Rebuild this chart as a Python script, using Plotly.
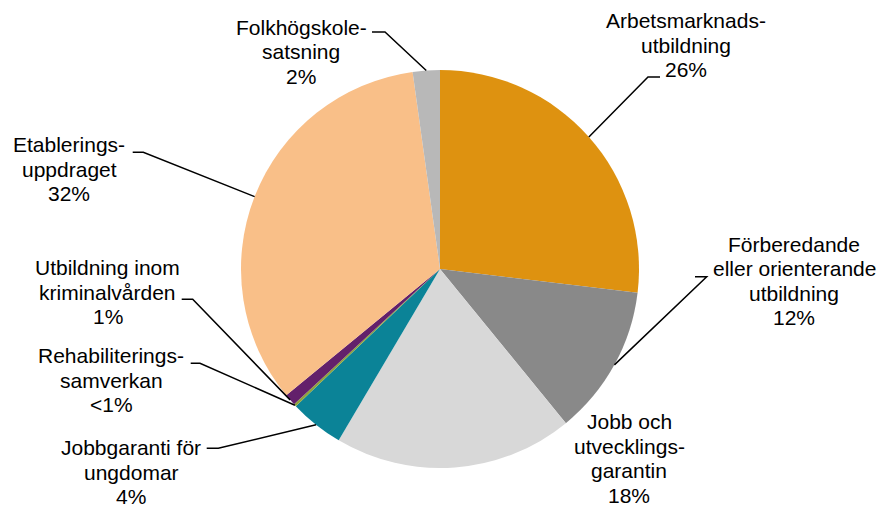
import math
import plotly.graph_objects as go

# ---- data ----
categories = [
    "Arbetsmarknadsutbildning",
    "Förberedande eller orienterande utbildning",
    "Jobb och utvecklingsgarantin",
    "Jobbgaranti för ungdomar",
    "Rehabiliteringssamverkan",
    "Utbildning inom kriminalvården",
    "Etableringsuppdraget",
    "Folkhögskolesatsning",
]
shares = [26.9, 12.2, 19.4, 4.4, 0.2, 0.95, 33.75, 2.2]
label_lines = [
    ["Arbetsmarknads-", "utbildning", "26%"],
    ["Förberedande", "eller orienterande", "utbildning", "12%"],
    ["Jobb och", "utvecklings-", "garantin", "18%"],
    ["Jobbgaranti för", "ungdomar", "4%"],
    ["Rehabiliterings-", "samverkan", "<1%"],
    ["Utbildning inom", "kriminalvården", "1%"],
    ["Etablerings-", "uppdraget", "32%"],
    ["Folkhögskole-", "satsning", "2%"],
]
colors = ["#DE9210", "#898989", "#D8D8D8", "#0B8397",
          "#8FA33C", "#63206B", "#F9BF88", "#B8B8B8"]

# ---- layout constants (pixels) ----
W, H = 880, 509
CX, CY, R = 440, 269, 199
FS = 21
LINE_H = 24.5
# label centre x and first-line baseline y
label_pos = [
    (686, 28), (794, 251.5), (629, 429), (131, 455),
    (111, 363), (107.5, 275), (69, 152), (301, 34.5),
]
# leader: (elbow x, elbow y, end x) or None
leaders = [
    (648, 77, 660), (706.7, 276.7, 695), None, (218.3, 448.3, 206.7),
    (200, 363.3, 190.7), (192.7, 299.3, 181.7), (143.3, 152.3, 132.7),
    (385, 32, 372),
]


def px(x):
    return x / W


def py(y):
    return 1 - y / H


fig = go.Figure(go.Pie(
    labels=categories,
    values=shares,
    sort=False,
    direction="clockwise",
    rotation=0,
    marker=dict(colors=colors, line=dict(width=0)),
    textinfo="none",
    hoverinfo="label+percent",
    showlegend=False,
    domain=dict(x=[px(CX - R), px(CX + R)], y=[py(CY + R), py(CY - R)]),
))

total = sum(shares)
cum = 0.0
annotations = []
shapes = []
for i, v in enumerate(shares):
    mid = (cum + v / 2) / total
    cum += v
    ang = 2 * math.pi * mid
    ex, ey = CX + R * math.sin(ang), CY - R * math.cos(ang)
    cx, by = label_pos[i]
    for k, line in enumerate(label_lines[i]):
        annotations.append(dict(
            x=px(cx), y=py(by + k * LINE_H - 7.3), xref="paper", yref="paper",
            text=line, showarrow=False, xanchor="center", yanchor="middle",
            font=dict(family="Liberation Sans, Arial", size=FS, color="#000000"),
        ))
    if leaders[i] is not None:
        lx, ly, lend = leaders[i]
        shapes.append(dict(
            type="path", xref="paper", yref="paper",
            path=f"M {px(ex)} {py(ey)} L {px(lx)} {py(ly)} L {px(lend)} {py(ly)}",
            line=dict(color="#000000", width=1.5),
        ))

fig.update_layout(
    width=W, height=H,
    margin=dict(l=0, r=0, t=0, b=0),
    paper_bgcolor="#FFFFFF",
    plot_bgcolor="#FFFFFF",
    annotations=annotations,
    shapes=shapes,
)

fig.write_html(
    "out.html",
    config={"displayModeBar": False},
    post_script="document.body.style.margin='0px';document.body.style.overflow='hidden';",
)
